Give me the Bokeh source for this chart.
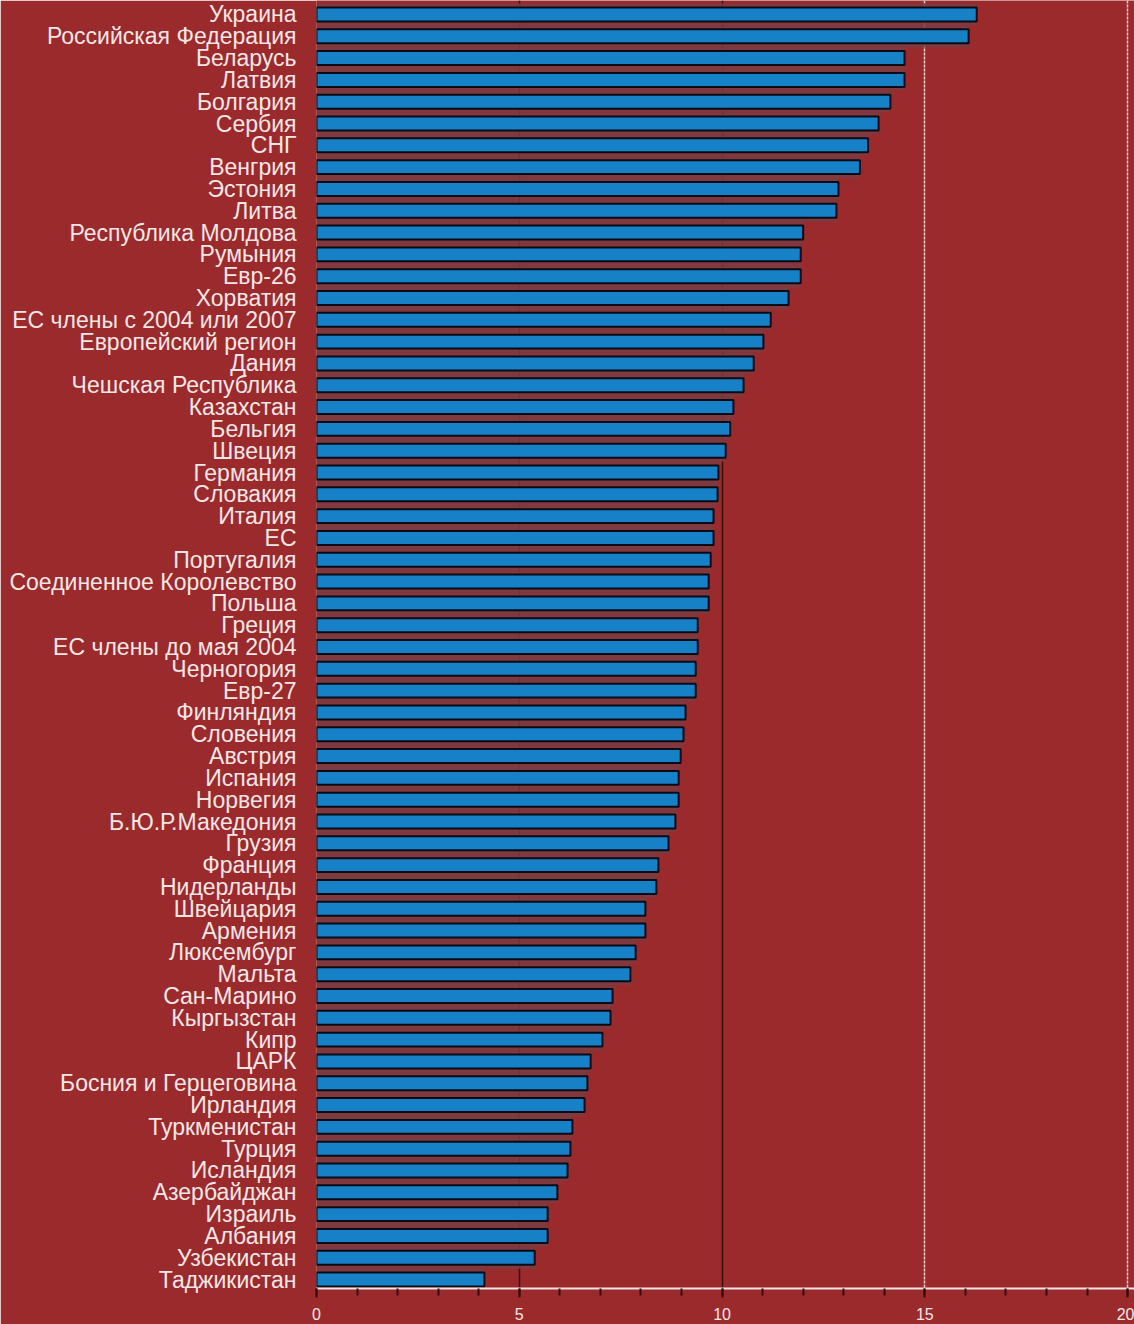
from bokeh.plotting import figure
from bokeh.models import Range1d, FixedTicker, Grid, SingleIntervalTicker, ColumnDataSource
from bokeh.embed import file_html
from bokeh.resources import INLINE

countries = [
    "Украина", "Российская Федерация", "Беларусь", "Латвия", "Болгария", "Сербия",
    "СНГ", "Венгрия", "Эстония", "Литва", "Республика Молдова", "Румыния", "Евр-26",
    "Хорватия", "ЕС члены с 2004 или 2007", "Европейский регион", "Дания",
    "Чешская Республика", "Казахстан", "Бельгия", "Швеция", "Германия", "Словакия",
    "Италия", "ЕС", "Португалия", "Соединенное Королевство", "Польша", "Греция",
    "ЕС члены до мая 2004", "Черногория", "Евр-27", "Финляндия", "Словения",
    "Австрия", "Испания", "Норвегия", "Б.Ю.Р.Македония", "Грузия", "Франция",
    "Нидерланды", "Швейцария", "Армения", "Люксембург", "Мальта", "Сан-Марино",
    "Кыргызстан", "Кипр", "ЦАРК", "Босния и Герцеговина", "Ирландия",
    "Туркменистан", "Турция", "Исландия", "Азербайджан", "Израиль", "Албания",
    "Узбекистан", "Таджикистан",
]
values = [
    16.28, 16.08, 14.50, 14.50, 14.15, 13.86, 13.60, 13.40, 12.87, 12.82, 12.00,
    11.94, 11.94, 11.64, 11.20, 11.02, 10.78, 10.53, 10.28, 10.20, 10.09, 9.91,
    9.89, 9.79, 9.79, 9.72, 9.67, 9.67, 9.40, 9.40, 9.35, 9.35, 9.10, 9.05, 8.98,
    8.93, 8.93, 8.85, 8.68, 8.43, 8.38, 8.11, 8.11, 7.87, 7.74, 7.30, 7.25, 7.05,
    6.76, 6.68, 6.61, 6.31, 6.26, 6.19, 5.94, 5.70, 5.70, 5.38, 4.14,
]
x_ticks = [0, 5, 10, 15, 20]

idx = list(range(len(countries)))
src = ColumnDataSource(dict(y=idx, v=values, name=countries))

BG = "#9a2a2c"
p = figure(width=1134, height=1324, output_backend="svg", toolbar_location=None,
           x_range=Range1d(0, 20.17), y_range=Range1d(58.41, -0.64),
           min_border_left=316, min_border_right=0, min_border_top=0,
           min_border_bottom=36)
p.background_fill_color = BG
p.border_fill_color = BG
p.outline_line_color = None
p.xgrid.visible = False
p.ygrid.visible = False

g_dark = Grid(dimension=0, ticker=FixedTicker(ticks=x_ticks[1:3]),
              grid_line_color="#3e0c0c", grid_line_width=1.5)
g_light = Grid(dimension=0, ticker=FixedTicker(ticks=x_ticks[3:]),
               grid_line_color="#f3cccc", grid_line_width=1.5, grid_line_dash="3 1")
p.add_layout(g_dark, "center")
p.add_layout(g_light, "center")

# muted band behind each bar (gap colour)
p.hbar(y="y", left=0, right="v", height=1.0, source=src,
       fill_color="#7a3c42", fill_alpha=0.88, line_color=None)

p.hbar(y="y", left=0, right="v", height=0.64, source=src,
       fill_color="#1681c6", line_color="#0b0b16", line_width=2)

# x axis
xa = p.xaxis[0]
xa.ticker = SingleIntervalTicker(interval=5, num_minor_ticks=5)
xa.axis_line_color = "#f4e4e4"
xa.axis_line_width = 2
xa.major_tick_line_color = "#3a0a0a"
xa.major_tick_line_width = 2
xa.major_tick_in = 0
xa.major_tick_out = 9
xa.minor_tick_line_color = "#3a0a0a"
xa.minor_tick_line_width = 2
xa.minor_tick_in = 0
xa.minor_tick_out = 7
xa.major_label_text_color = "#f4e6e6"
xa.major_label_text_font = "Liberation Sans"
xa.major_label_text_font_size = "16px"
xa.major_label_standoff = 10

# y axis: category labels
ya = p.yaxis[0]
ya.ticker = FixedTicker(ticks=idx)
ya.major_label_overrides = {i: n for i, n in zip(idx, countries)}
ya.axis_line_color = None
ya.major_tick_line_color = None
ya.minor_tick_line_color = None
ya.major_tick_out = 0
ya.major_tick_in = 0
ya.major_label_standoff = 20
ya.major_label_text_color = "#f4e6e6"
ya.major_label_text_font = "Liberation Sans"
ya.major_label_text_font_size = "23px"

open("out.html", "w").write(file_html(p, INLINE))
